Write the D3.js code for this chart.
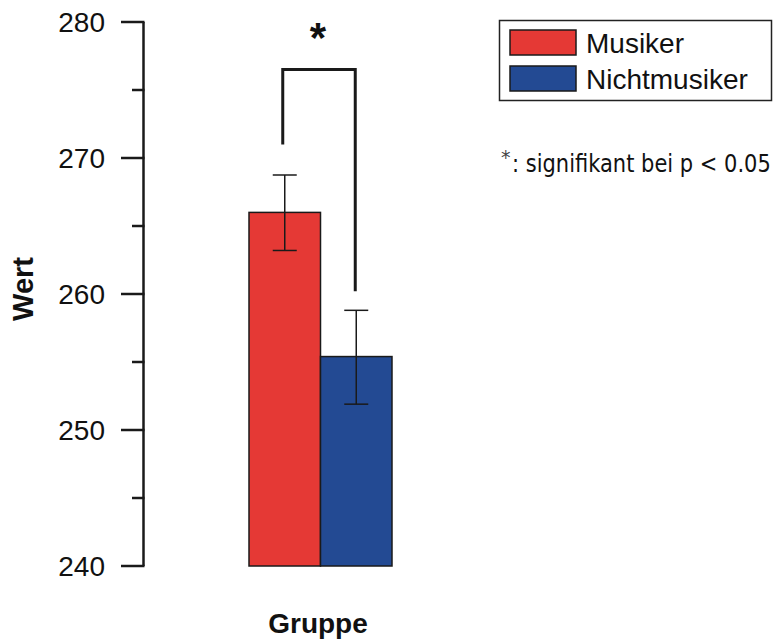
<!DOCTYPE html>
<html>
<head>
<meta charset="utf-8">
<script src="https://cdn.jsdelivr.net/npm/d3@7"></script>
<style>
  html, body { margin: 0; padding: 0; background: #fff; }
  svg { display: block; }
</style>
</head>
<body>
<svg id="chart" width="782" height="641"></svg>
<script>
// Group means with error bars (± standard error)
const groups = ["Musiker", "Nichtmusiker"];
const means = [266.0, 255.4];
const errLow = [263.2, 251.9];
const errHigh = [268.75, 258.8];
const colors = ["#e53935", "#234a93"];
const majorTicks = [240, 250, 260, 270, 280];
const minorTicks = [245, 255, 265, 275];
const bracketLeft = 271;    // top of left bracket leg (data units)
const bracketRight = 260.2; // bottom of right bracket leg
const bracketTop = 276.5;

const svg = d3.select("#chart");
const font = "'Liberation Sans', Arial, Helvetica, sans-serif";

const y = d3.scaleLinear().domain([240, 280]).range([566, 22]);
const x = d3.scaleBand().domain(groups).range([249, 392]).padding(0);

// Axis line with major and minor ticks
const axisX = 143.5;
svg.append("line")
  .attr("x1", axisX).attr("x2", axisX)
  .attr("y1", y(280)).attr("y2", y(240))
  .attr("stroke", "#1a1a1a").attr("stroke-width", 2.5);

svg.selectAll(".major").data(majorTicks).enter().append("line")
  .attr("x1", 121).attr("x2", axisX + 1)
  .attr("y1", d => y(d)).attr("y2", d => y(d))
  .attr("stroke", "#1a1a1a").attr("stroke-width", 2.5);

svg.selectAll(".minor").data(minorTicks).enter().append("line")
  .attr("x1", 132).attr("x2", axisX + 1)
  .attr("y1", d => y(d)).attr("y2", d => y(d))
  .attr("stroke", "#1a1a1a").attr("stroke-width", 2.5);

svg.selectAll(".tlabel").data(majorTicks).enter().append("text")
  .attr("x", 105).attr("y", d => y(d) + 10)
  .attr("text-anchor", "end")
  .attr("font-family", font).attr("font-size", 28)
  .attr("fill", "#111")
  .text(d => d);

// Bars
svg.selectAll(".bar").data(groups).enter().append("rect")
  .attr("x", d => x(d))
  .attr("y", (d, i) => y(means[i]))
  .attr("width", x.bandwidth())
  .attr("height", (d, i) => y(240) - y(means[i]))
  .attr("fill", (d, i) => colors[i])
  .attr("stroke", "#1a1a1a").attr("stroke-width", 1.5);

// Error bars
const cap = 12;
groups.forEach((g, i) => {
  const cx = x(g) + x.bandwidth() / 2;
  const grp = svg.append("g").attr("stroke", "#1a1a1a").attr("stroke-width", 1.5);
  grp.append("line").attr("x1", cx).attr("x2", cx).attr("y1", y(errHigh[i])).attr("y2", y(errLow[i]));
  grp.append("line").attr("x1", cx - cap).attr("x2", cx + cap).attr("y1", y(errHigh[i])).attr("y2", y(errHigh[i]));
  grp.append("line").attr("x1", cx - cap).attr("x2", cx + cap).attr("y1", y(errLow[i])).attr("y2", y(errLow[i]));
});

// Significance bracket
const lx = x(groups[0]) + x.bandwidth() / 2 - 2;
const rx = x(groups[1]) + x.bandwidth() / 2 - 1;
svg.append("path")
  .attr("d", `M${lx},${y(bracketLeft)} V${y(bracketTop)} H${rx} V${y(bracketRight)}`)
  .attr("fill", "none").attr("stroke", "#1a1a1a").attr("stroke-width", 3);
svg.append("text")
  .attr("x", (lx + rx) / 2 - 1).attr("y", 52)
  .attr("text-anchor", "middle")
  .attr("font-family", font).attr("font-weight", "bold").attr("font-size", 42)
  .attr("fill", "#111")
  .text("*");

// Axis titles
svg.append("text")
  .attr("transform", "translate(33,289) rotate(-90)")
  .attr("text-anchor", "middle")
  .attr("font-family", font).attr("font-weight", "bold").attr("font-size", 29)
  .attr("fill", "#111")
  .text("Wert");
svg.append("text")
  .attr("x", 318).attr("y", 633)
  .attr("text-anchor", "middle")
  .attr("font-family", font).attr("font-weight", "bold").attr("font-size", 28)
  .attr("fill", "#111")
  .text("Gruppe");

// Legend
svg.append("rect")
  .attr("x", 499.5).attr("y", 20.5).attr("width", 272).attr("height", 80)
  .attr("fill", "#fff").attr("stroke", "#222").attr("stroke-width", 1.5);
groups.forEach((g, i) => {
  svg.append("rect")
    .attr("x", 510).attr("y", 30 + i * 36).attr("width", 66).attr("height", 25)
    .attr("fill", colors[i]).attr("stroke", "#1a1a1a").attr("stroke-width", 1.5);
  svg.append("text")
    .attr("x", 586).attr("y", 53 + i * 36)
    .attr("font-family", font).attr("font-size", 28)
    .attr("fill", "#111")
    .text(g);
});

// Significance note, horizontally condensed
svg.append("text")
  .attr("x", 501).attr("y", 164)
  .attr("font-family", "'DejaVu Sans', sans-serif")
  .attr("font-size", 19)
  .attr("fill", "#444")
  .text("*");
svg.append("text")
  .attr("transform", "translate(512,172) scale(0.84,1)")
  .attr("font-family", "'DejaVu Sans', sans-serif")
  .attr("font-size", 25)
  .attr("fill", "#111")
  .text(": signifikant bei p < 0.05");
</script>
</body>
</html>
